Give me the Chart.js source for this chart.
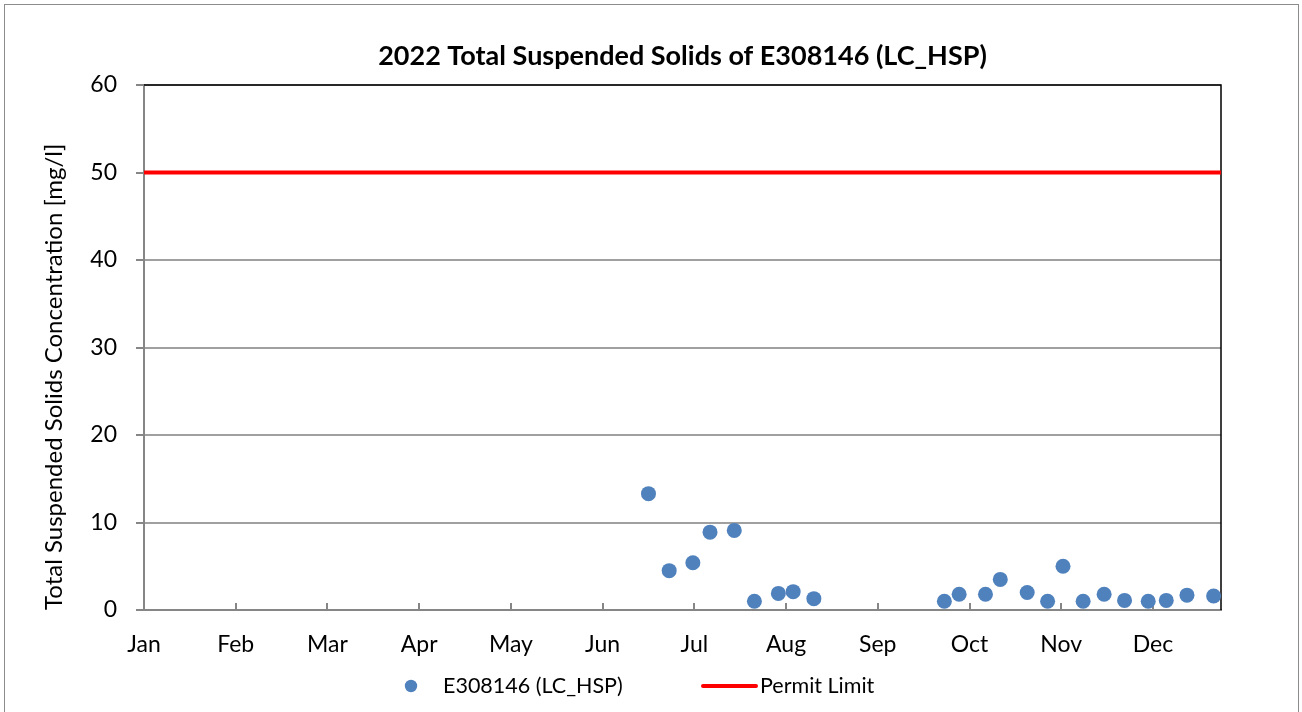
<!DOCTYPE html>
<html>
<head>
<meta charset="utf-8">
<script src="https://cdn.jsdelivr.net/npm/chart.js@4.4.1/dist/chart.umd.min.js"></script>
<style>
html,body{margin:0;padding:0;background:#fff;}
#wrap{position:relative;width:1302px;height:712px;}
canvas{display:block;}
</style>
</head>
<body>
<div id="wrap"><canvas id="c" width="1302" height="712"></canvas></div>
<script>
// ---- data ----
const chartTitle = '2022 Total Suspended Solids of E308146 (LC_HSP)';
const yAxisTitle = 'Total Suspended Solids Concentration [mg/l]';
const monthLabels = ['Jan','Feb','Mar','Apr','May','Jun','Jul','Aug','Sep','Oct','Nov','Dec'];
const monthTickDays = [0,31,62,93,124,155,186,217,248,279,310,341];   // day of year (Jan 1 = 0)
const yTicks = [0,10,20,30,40,50,60];
const sampleLabel = 'E308146 (LC_HSP)';
const sampleDays = [170.5,177.5,185.5,191.3,199.5,206.3,214.4,219.4,226.4,
                    270.5,275.5,284.4,289.4,298.5,305.4,310.6,317.4,324.5,331.4,339.4,345.5,352.5,361.5];
const sampleValues = [13.3,4.5,5.4,8.9,9.1,1.0,1.9,2.1,1.3,
                      1.0,1.8,1.8,3.5,2.0,1.0,5.0,1.0,1.8,1.1,1.0,1.1,1.7,1.6];
const permitLabel = 'Permit Limit';
const permitDays = [0,364];
const permitValues = [50,50];
const xMin = 0, xMax = 364;

// ---- styles ----
const FONT = 'Lato';
const BLUE = '#4f81bd';
const RED = '#ff0000';
const GRID = '#a0a0a0';
const AXIS = '#868686';

Chart.defaults.font.family = FONT;
Chart.defaults.color = '#000';

const framePlugin = {
  id: 'frame',
  beforeDraw(chart) {
    const ctx = chart.ctx;
    ctx.save();
    ctx.fillStyle = '#fff';
    ctx.fillRect(0, 0, chart.width, chart.height);
    ctx.strokeStyle = '#8c8c8c';
    ctx.lineWidth = 1;
    ctx.strokeRect(4.5, 4.5, chart.width - 8, chart.height + 10);
    ctx.restore();
  },
  beforeDatasetsDraw(chart) {
    const ctx = chart.ctx, a = chart.chartArea, xs = chart.scales.x;
    ctx.save();
    // plot-area border (top & right)
    ctx.strokeStyle = '#000';
    ctx.lineWidth = 1.5;
    ctx.beginPath();
    ctx.moveTo(a.left, a.top);
    ctx.lineTo(a.right, a.top);
    ctx.lineTo(a.right, a.bottom);
    ctx.stroke();
    // inside tick marks on the x axis
    ctx.strokeStyle = AXIS;
    ctx.lineWidth = 2;
    ctx.beginPath();
    monthTickDays.forEach(d => {
      const px = Math.round(xs.getPixelForValue(d));
      ctx.moveTo(px, a.bottom);
      ctx.lineTo(px, a.bottom - 7);
    });
    ctx.stroke();
    ctx.restore();
  }
};

const legendPlugin = {
  id: 'customLegend',
  afterDraw(chart) {
    const ctx = chart.ctx;
    const ds = chart.data.datasets;
    const y = 686;
    ctx.save();
    ctx.font = '21.5px ' + FONT;
    ctx.textBaseline = 'middle';
    ctx.textAlign = 'left';
    // item 1 : marker
    ctx.fillStyle = ds[0].backgroundColor;
    ctx.beginPath();
    ctx.arc(411, y, 6.2, 0, Math.PI * 2);
    ctx.fill();
    ctx.fillStyle = '#000';
    ctx.fillText(ds[0].label, 443, y);
    // item 2 : line
    ctx.strokeStyle = ds[1].borderColor;
    ctx.lineWidth = 4;
    ctx.lineCap = 'round';
    ctx.beginPath();
    ctx.moveTo(703, y);
    ctx.lineTo(756, y);
    ctx.stroke();
    ctx.fillText(ds[1].label, 760, y);
    ctx.restore();
  }
};

new Chart(document.getElementById('c'), {
  type: 'scatter',
  data: {
    datasets: [
      {
        label: sampleLabel,
        data: sampleDays.map((d, i) => ({x: d, y: sampleValues[i]})),
        backgroundColor: BLUE,
        borderColor: BLUE,
        borderWidth: 0,
        pointRadius: 7.5,
        pointHoverRadius: 7.5,
        clip: false,
        order: 1
      },
      {
        label: permitLabel,
        data: permitDays.map((d, i) => ({x: d, y: permitValues[i]})),
        showLine: true,
        borderColor: RED,
        backgroundColor: RED,
        borderWidth: 4,
        pointRadius: 0,
        pointHoverRadius: 0,
        clip: false,
        order: 2
      }
    ]
  },
  options: {
    responsive: false,
    animation: false,
    devicePixelRatio: 1,
    layout: { padding: { left: 0, right: 81, top: 0, bottom: 42 } },
    plugins: {
      legend: { display: false },
      tooltip: { enabled: false },
      title: {
        display: true,
        text: chartTitle,
        fullSize: false,
        color: '#000',
        font: { family: FONT, size: 27, weight: 'bold' },
        padding: { top: 40, bottom: 12.6 }
      }
    },
    scales: {
      x: {
        type: 'linear',
        min: xMin,
        max: xMax,
        afterBuildTicks(scale) { scale.ticks = monthTickDays.map(v => ({value: v})); },
        afterFit(scale) { scale.height = 60; },
        ticks: {
          autoSkip: false,
          maxRotation: 0,
          padding: 21,
          font: { size: 23 },
          color: '#000',
          callback(value) {
            const i = monthTickDays.indexOf(value);
            return i >= 0 ? monthLabels[i] : '';
          }
        },
        grid: { display: false, drawTicks: false },
        border: { display: true, color: AXIS, width: 2 }
      },
      y: {
        min: 0,
        max: 60,
        afterBuildTicks(scale) { scale.ticks = yTicks.map(v => ({value: v})); },
        afterFit(scale) { scale.width = 144; },
        ticks: { padding: 19, font: { size: 23 }, color: '#000' },
        grid: { color: GRID, lineWidth: 2, drawTicks: true, tickLength: 8, tickColor: AXIS },
        border: { display: true, color: AXIS, width: 2 },
        title: {
          display: true,
          text: yAxisTitle,
          align: 'start',
          color: '#000',
          font: { size: 24 },
          padding: { top: 40, bottom: 0 }
        }
      }
    }
  },
  plugins: [framePlugin, legendPlugin]
});
</script>
</body>
</html>
